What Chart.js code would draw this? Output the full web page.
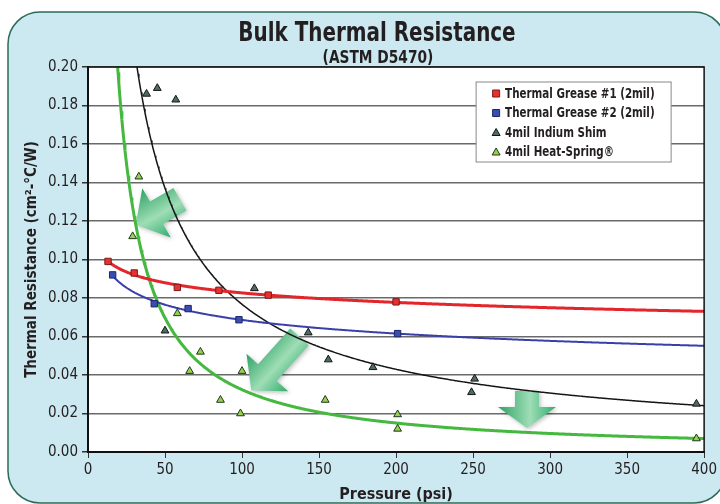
<!DOCTYPE html>
<html>
<head>
<meta charset="utf-8">
<script src="https://cdn.jsdelivr.net/npm/chart.js@4.4.0/dist/chart.umd.min.js"></script>
<style>
html, body { margin: 0; padding: 0; background: #fff; }
#wrap { width: 720px; height: 504px; }
</style>
</head>
<body>
<div id="wrap"><canvas id="zeChart"></canvas></div>
<script>
// values (psi / cm2-C/W)
var grease1Psi = [13, 30, 58, 85, 117, 200];
var grease1Res = [0.099, 0.093, 0.0855, 0.084, 0.0815, 0.078];
var grease2Psi = [16, 43, 65, 98, 201];
var grease2Res = [0.092, 0.077, 0.0745, 0.0687, 0.0615];
var indiumPsi = [38, 45, 50, 57, 108, 143, 156, 185, 249, 251, 395];
var indiumRes = [0.186, 0.189, 0.063, 0.183, 0.085, 0.062, 0.048, 0.044, 0.031, 0.038, 0.025];
var springPsi = [29, 33, 58, 66, 73, 86, 99, 100, 154, 201, 201, 395];
var springRes = [0.112, 0.143, 0.072, 0.042, 0.052, 0.027, 0.020, 0.042, 0.027, 0.0195, 0.012, 0.007];

var seriesNames = ["Thermal Grease #1 (2mil)", "Thermal Grease #2 (2mil)", "4mil Indium Shim", "4mil Heat-Spring\u00AE"];
var xTicks = [0, 50, 100, 150, 200, 250, 300, 350, 400];
var yTicks = [0.00, 0.02, 0.04, 0.06, 0.08, 0.10, 0.12, 0.14, 0.16, 0.18, 0.20];
var chartTitle = "Bulk Thermal Resistance";
var chartSubtitle = "(ASTM D5470)";

var FONT = "'Liberation Sans Narrow', 'DejaVu Sans Condensed', 'Arial Narrow', sans-serif";
var INK = "#231f20";

function pts(xs, ys) {
    return xs.map(function (x, i) { return { x: x, y: ys[i] }; });
}

// power trendline y = a*x^b, least squares in log space (like the spreadsheet did)
function powerFit(xs, ys) {
    var n = xs.length, sx = 0, sy = 0, sxx = 0, sxy = 0;
    for (var i = 0; i < n; i++) {
        var lx = Math.log(xs[i]), ly = Math.log(ys[i]);
        sx += lx; sy += ly; sxx += lx * lx; sxy += lx * ly;
    }
    var b = (n * sxy - sx * sy) / (n * sxx - sx * sx);
    var a = Math.exp((sy - b * sx) / n);
    return { a: a, b: b };
}

function trend(xs, ys, from, to) {
    var f = powerFit(xs, ys), out = [];
    for (var x = from; x <= to; x += 0.5) out.push({ x: x, y: f.a * Math.pow(x, f.b) });
    return out;
}

// condensed headline text (squeezed sideways, like the original typeface)
function squeezedText(c, text, x, y, font, sx) {
    c.save();
    c.font = font;
    c.textAlign = "center";
    c.textBaseline = "alphabetic";
    c.translate(x, y);
    c.scale(sx, 1);
    c.fillText(text, 0, 0);
    c.restore();
}

var bgPlugin = {
    id: "bg",
    beforeDraw: function (chart) {
        var c = chart.ctx, a = chart.chartArea;
        c.save();
        c.fillStyle = "#fff";
        c.fillRect(0, 0, chart.width, chart.height);
        c.beginPath();
        c.roundRect(8, 12, 718, 491, 32);
        c.fillStyle = "#cce8f1";
        c.fill();
        c.lineWidth = 1.5;
        c.strokeStyle = "#2b6b57";
        c.stroke();
        c.fillStyle = "#fff";
        c.fillRect(a.left, a.top, a.right - a.left, a.bottom - a.top);
        c.fillStyle = INK;
        squeezedText(c, chartTitle, 377, 41, "bold 27px " + FONT, 0.82);
        squeezedText(c, chartSubtitle, 378, 62.5, "bold 17px " + FONT, 0.9);
        c.restore();
    },
    afterDraw: function (chart) {
        var c = chart.ctx, a = chart.chartArea;
        c.save();
        c.strokeStyle = "#111";
        c.lineWidth = 1.5;
        c.strokeRect(a.left, a.top, a.right - a.left, a.bottom - a.top);

        // legend box, built from the marker datasets
        var lx = a.right - 228, ly = a.top + 15, lw = 195, lh = 80;
        c.fillStyle = "#fff";
        c.fillRect(lx, ly, lw, lh);
        c.strokeStyle = "#888";
        c.lineWidth = 1;
        c.strokeRect(lx, ly, lw, lh);
        c.textBaseline = "middle";
        for (var i = 0; i < 4; i++) {
            var ds = chart.data.datasets[i];
            var mx = lx + 20, my = ly + 11.5 + i * 19.5;
            c.fillStyle = ds.backgroundColor;
            c.strokeStyle = ds.borderColor;
            c.lineWidth = 1;
            c.beginPath();
            if (ds.pointStyle === "rect") {
                c.rect(mx - 3.5, my - 3.5, 7, 7);
            } else {
                c.moveTo(mx, my - 4);
                c.lineTo(mx + 4, my + 3);
                c.lineTo(mx - 4, my + 3);
                c.closePath();
            }
            c.fill();
            c.stroke();
            c.save();
            c.fillStyle = INK;
            c.font = "bold 13.5px " + FONT;
            c.translate(lx + 29, my + 0.5);
            c.scale(0.85, 1);
            c.fillText(ds.label, 0, 0);
            c.restore();
        }
        c.restore();
    }
};

// decorative green arrows, anchored in data space
var arrows = [
    { x: 31, y: 0.118, deg: 150, len: 51, shaft: 26, head: 57, headLen: 24 },
    { x: 106, y: 0.032, deg: 132, len: 72, shaft: 25, head: 56, headLen: 24 },
    { x: 285, y: 0.0125, deg: 90, len: 37, shaft: 24, head: 58, headLen: 21 }
];

var arrowPlugin = {
    id: "arrows",
    beforeDatasetsDraw: function (chart) {
        var c = chart.ctx, xs = chart.scales.x, ys = chart.scales.y;
        arrows.forEach(function (ar) {
            var px = xs.getPixelForValue(ar.x), py = ys.getPixelForValue(ar.y);
            c.save();
            c.translate(px, py);
            c.rotate(ar.deg * Math.PI / 180);
            var g = c.createLinearGradient(0, -ar.head / 2, 0, ar.head / 2);
            g.addColorStop(0, "#2fae6c");
            g.addColorStop(0.45, "#9fddb6");
            g.addColorStop(1, "#2ba363");
            c.beginPath();
            c.moveTo(0, 0);
            c.lineTo(-ar.headLen, ar.head / 2);
            c.lineTo(-ar.headLen, ar.shaft / 2);
            c.lineTo(-ar.len, ar.shaft / 2);
            c.lineTo(-ar.len, -ar.shaft / 2);
            c.lineTo(-ar.headLen, -ar.shaft / 2);
            c.lineTo(-ar.headLen, -ar.head / 2);
            c.closePath();
            c.shadowColor = "rgba(0,0,0,0.25)";
            c.shadowBlur = 4;
            c.shadowOffsetX = 1.5;
            c.shadowOffsetY = 1.5;
            c.fillStyle = g;
            c.fill();
            c.restore();
        });
    }
};

function lineSet(data, color, width) {
    return {
        type: "scatter", data: data, showLine: true, pointRadius: 0,
        borderColor: color, borderWidth: width, tension: 0, fill: false
    };
}

const ctx = document.getElementById("zeChart");

new Chart(ctx, {
    type: "scatter",
    data: {
        datasets: [
            { label: seriesNames[0], data: pts(grease1Psi, grease1Res), pointStyle: "rect", pointRadius: 4.5,
              backgroundColor: "#e8302f", borderColor: "#7a1b1b", borderWidth: 1 },
            { label: seriesNames[1], data: pts(grease2Psi, grease2Res), pointStyle: "rect", pointRadius: 4.5,
              backgroundColor: "#3b4db0", borderColor: "#1d2766", borderWidth: 1 },
            { label: seriesNames[2], data: pts(indiumPsi, indiumRes), pointStyle: "triangle", pointRadius: 4.5,
              backgroundColor: "#4d6d62", borderColor: "#151515", borderWidth: 1 },
            { label: seriesNames[3], data: pts(springPsi, springRes), pointStyle: "triangle", pointRadius: 4.5,
              backgroundColor: "#93d34a", borderColor: "#243424", borderWidth: 1 },
            lineSet(trend(grease1Psi, grease1Res, 13, 400), "#e3262b", 3),
            lineSet(trend(grease2Psi, grease2Res, 15.5, 400), "#3b3fa8", 2),
            lineSet(trend(indiumPsi, indiumRes, 20, 400), "#151515", 1.5),
            lineSet(trend(springPsi, springRes, 10, 400), "#45b83f", 3)
        ]
    },
    plugins: [bgPlugin, arrowPlugin],
    options: {
        responsive: true,
        maintainAspectRatio: false,
        animation: false,
        layout: { padding: { left: 20, right: 15, top: 67, bottom: 0 } },
        plugins: {
            legend: { display: false },
            tooltip: { enabled: false }
        },
        scales: {
            x: {
                type: "linear",
                min: 0, max: 400,
                afterBuildTicks: function (s) { s.ticks = xTicks.map(function (v) { return { value: v }; }); },
                afterFit: function (s) { s.height = 52; },
                ticks: { color: INK, font: { family: FONT, size: 15 }, padding: 3, maxRotation: 0 },
                grid: { drawOnChartArea: false, drawTicks: true, tickLength: 6, tickColor: "#333" },
                border: { color: "#111", width: 2 },
                title: {
                    display: true, text: "Pressure (psi)", color: INK,
                    font: { family: FONT, size: 16, weight: "bold" }, padding: { top: 2, bottom: 0 }
                }
            },
            y: {
                type: "linear",
                min: 0, max: 0.2,
                afterBuildTicks: function (s) { s.ticks = yTicks.map(function (v) { return { value: v }; }); },
                afterFit: function (s) { s.width = 68; },
                ticks: {
                    color: INK, font: { family: FONT, size: 15 }, padding: 4,
                    callback: function (v) { return v.toFixed(2); }
                },
                grid: { color: "#6a6a6a", lineWidth: 1.5, tickLength: 6, tickColor: "#333" },
                border: { color: "#111", width: 2 },
                title: {
                    display: true, text: "Thermal Resistance (cm\u00B2-\u00B0C/W)", color: INK,
                    font: { family: FONT, size: 15, weight: "bold" }, padding: { top: 3, bottom: 6 }
                }
            }
        }
    }
});
</script>
</body>
</html>
